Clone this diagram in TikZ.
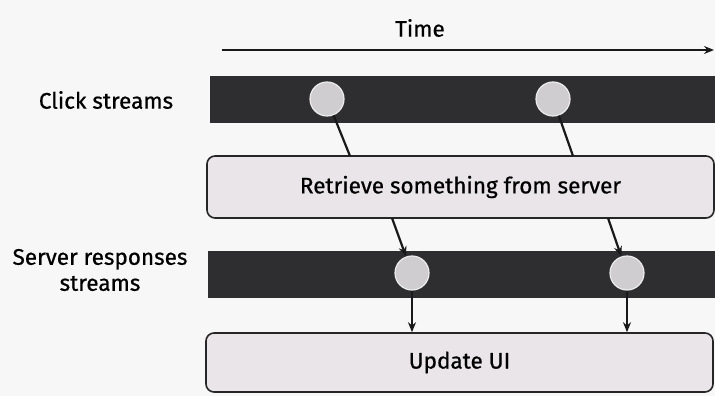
\documentclass[tikz,border=0pt]{standalone}
\usepackage{fontspec}
\setmainfont{Fira Sans}
\newfontfamily\lblfont{Fira Sans}[FakeBold=0.7]
\usetikzlibrary{arrows.meta,calc,positioning}
\definecolor{barcol}{HTML}{2E2E31}
\definecolor{dotcol}{HTML}{CFCDCF}
\definecolor{boxcol}{HTML}{E9E5E9}
\definecolor{paper}{HTML}{F7F7F7}

\begin{document}
\begin{tikzpicture}[x=1pt,y=-1pt,
		lbl/.style={font=\lblfont\fontsize{22.5}{26}\selectfont, align=center},
		bar/.style={fill=barcol, minimum width=508pt, minimum height=47pt, inner sep=0pt},
		dot/.style={circle, fill=dotcol, draw=white!85!gray, line width=1.2pt, minimum size=34pt, inner sep=0pt},
		task/.style={draw=black!85, fill=boxcol, rounded corners=8pt, line width=1.6pt, minimum width=507pt, minimum height=62pt, font=\lblfont\fontsize{22.5}{26}\selectfont},
		link/.style={line width=2.2pt, black!90},
		>={Stealth[length=10pt,width=8pt]}]
		\fill[paper] (0,0) rectangle (715,396);
		\useasboundingbox (0,0) rectangle (715,396);
		\node[lbl] (time) at (420,28) {Time};
		\coordinate (t0) at (222,50);
		\coordinate (t1) at (714,50);
		\node[lbl] (clicklbl) at (106,100) {Click streams};
		\node[lbl] (serverlbl) at (100,270) {Server responses\\streams};
		\node[bar] (clickbar) at (464,99.5) {};
		\node[bar] (serverbar) at (462,274) {};
		\node[dot] (c1) at (327,99) {};
		\node[dot] (c2) at (553,99) {};
		\node[task] (retrieve) at (460.5,187) {Retrieve something from server};
		\node[dot] (s1) at (412,273) {};
		\node[dot] (s2) at (627,273) {};
		\node[task, minimum height=59pt] (update) at (459.5,362.5) {Update UI};
		\coordinate (r1) at (350,156);
		\coordinate (r2) at (573,156);
		\coordinate (q1) at (392,218);
		\coordinate (q2) at (608,218);
		\draw[link,->] (t0) -- (t1);
		\draw[link] (c1) -- (r1);
		\draw[link] (c2) -- (r2);
		\draw[link,->] (q1) -- (s1);
		\draw[link,->] (q2) -- (s2);
		\draw[link,->] (s1) -- (s1 |- update.north);
		\draw[link,->] (s2) -- (s2 |- update.north);
	\end{tikzpicture}
\end{document}
